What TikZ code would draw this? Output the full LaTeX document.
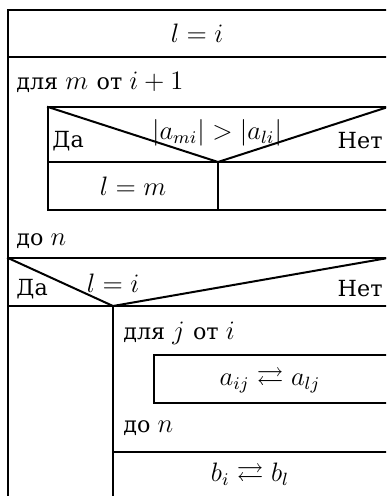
\documentclass[tikz,border=0pt]{standalone}
\usepackage{amsmath,amssymb}
\usepackage[no-math]{fontspec}
\setmainfont{DejaVu Serif}
\usepackage{tikz}
\usetikzlibrary{positioning}

\begin{document}
\begin{tikzpicture}[x=0.45pt, y=-0.45pt,
  ns/.style={line width=0.9pt, line cap=rect},
  txt/.style={inner sep=0pt, font=\fontsize{10}{12}\selectfont}]
  \useasboundingbox (0,0) rectangle (386,496);
  \clip (0,0) rectangle (386,496);

  % Outer block
  \draw[ns] (8,10) -- (388,10);
  \draw[ns] (8,10) -- (8,500);
  \node[txt] (init) at (197,33) {\large$l = i$};
  \draw[ns] (8,57.5) -- (388,57.5);

  % Loop over m
  \node[txt, anchor=west] (forM) at (16,82) {для \large$m$ \normalsize от \large$i+1$};
  \draw[ns] (48,107) -- (388,107);
  \draw[ns] (48,107) -- (48,210);
  \draw[ns] (48,107) -- (218,162) -- (388,107);
  \node[txt] (condA) at (217,133) {\large$|a_{mi}| > |a_{li}|$};
  \node[txt, anchor=west] (yesA) at (52,141) {Да};
  \node[txt, anchor=east] (noA) at (383,141) {Нет};
  \draw[ns] (48,162) -- (388,162);
  \draw[ns] (218,162) -- (218,210);
  \node[txt] (setM) at (133,186) {\large$l = m$};
  \draw[ns] (48,210) -- (388,210);
  \node[txt, anchor=west] (endM) at (16,241) {до \large$n$};

  % Test l = i
  \draw[ns] (8,258) -- (388,258);
  \draw[ns] (8,258) -- (113,306) -- (388,258);
  \node[txt] (condB) at (113,283) {\large$l = i$};
  \node[txt, anchor=west] (yesB) at (16,289) {Да};
  \node[txt, anchor=east] (noB) at (383,289) {Нет};
  \draw[ns] (8,306) -- (388,306);
  \draw[ns] (113,306) -- (113,500);

  % Swap rows
  \node[txt, anchor=west] (forJ) at (123,333) {для \large$j$ \normalsize от \large$i$};
  \draw[ns] (154,355) -- (388,355);
  \draw[ns] (154,355) -- (154,403);
  \draw[ns] (154,403) -- (388,403);
  \node[txt] (swapA) at (270,380) {\large$a_{ij} \rightleftarrows a_{lj}$};
  \node[txt, anchor=west] (endJ) at (123,428) {до \large$n$};
  \draw[ns] (113,452) -- (388,452);
  \node[txt] (swapB) at (250,475) {\large$b_i \rightleftarrows b_l$};
\end{tikzpicture}
\end{document}
